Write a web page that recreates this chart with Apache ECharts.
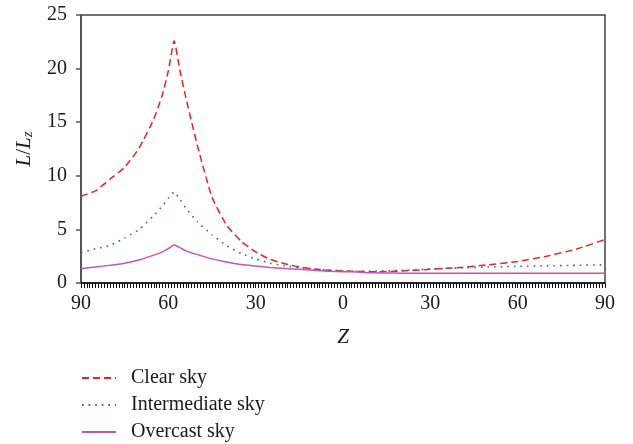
<!DOCTYPE html>
<html>
<head>
<meta charset="utf-8">
<script src="https://cdn.jsdelivr.net/npm/echarts@6/dist/echarts.min.js"></script>
<style>
  html, body { margin: 0; padding: 0; background: #ffffff; }
  #chart { width: 633px; height: 444px; }
</style>
</head>
<body>
<div id="chart"></div>
<script>
// Zenith angle Z: negative = one side of the zenith, positive = the other side
var angles = [-90, -85, -80, -75, -70, -65, -62, -60, -58, -56, -54, -50, -45, -40, -35, -30, -25, -20, -15, -10, -5, 0, 5, 10, 15, 20, 30, 40, 50, 60, 70, 80, 90];

// Relative luminance L/Lz for each sky type
var clearSky =        [8.1, 8.6, 9.7, 10.8, 12.6, 15.3, 17.6, 19.8, 22.6, 19.8, 17.3, 12.8, 8.0, 5.4, 3.9, 2.9, 2.2, 1.8, 1.5, 1.3, 1.2, 1.12, 1.08, 1.05, 1.07, 1.12, 1.28, 1.45, 1.7, 2.0, 2.5, 3.15, 4.05];
var intermediateSky = [2.8, 3.2, 3.5, 4.2, 5.0, 6.3, 7.2, 7.9, 8.5, 7.8, 7.0, 5.7, 4.5, 3.5, 2.75, 2.25, 1.85, 1.6, 1.45, 1.3, 1.2, 1.12, 1.1, 1.1, 1.12, 1.18, 1.3, 1.4, 1.5, 1.55, 1.6, 1.65, 1.7];
var overcastSky =     [1.33, 1.5, 1.65, 1.85, 2.15, 2.6, 2.9, 3.2, 3.55, 3.3, 3.0, 2.65, 2.25, 1.95, 1.72, 1.58, 1.45, 1.35, 1.28, 1.18, 1.1, 1.05, 1.03, 0.95, 0.93, 0.92, 0.92, 0.92, 0.91, 0.91, 0.9, 0.9, 0.9];

var seriesNames = ['Clear sky', 'Intermediate sky', 'Overcast sky'];
var xTicks = [90, 60, 30, 0, 30, 60, 90];

function pairs(values) {
  return angles.map(function (a, i) { return [a, values[i]]; });
}

var serif = '"Liberation Serif", "DejaVu Serif", serif';
var ink = '#1a1a1a';

var chart = echarts.init(document.getElementById('chart'), null, { renderer: 'canvas' });

chart.setOption({
  animation: false,
  backgroundColor: '#ffffff',
  grid: {
    left: 81, right: 28, top: 15, bottom: 161,
    show: true, borderColor: '#444', borderWidth: 1.5, backgroundColor: 'transparent'
  },
  legend: {
    orient: 'vertical',
    left: 81, top: 368,
    padding: 0,
    height: 80,
    itemWidth: 34, itemHeight: 10, itemGap: 7,
    itemStyle: { opacity: 0 },
    textStyle: { fontFamily: serif, fontSize: 20, color: ink, padding: [0, 0, 0, 10] },
    data: seriesNames
  },
  xAxis: {
    type: 'value',
    min: -90, max: 90, interval: 30,
    name: 'Z',
    nameLocation: 'middle',
    nameGap: 44,
    nameTextStyle: { fontFamily: serif, fontSize: 21, fontStyle: 'italic', color: ink },
    axisLine: { onZero: false, lineStyle: { color: '#111', width: 1.5 } },
    axisTick: { length: 5, lineStyle: { color: '#111', width: 1 } },
    minorTick: { show: true, splitNumber: 30, length: 5, lineStyle: { color: '#111', width: 1 } },
    splitLine: { show: false },
    axisLabel: {
      margin: 11,
      fontFamily: serif, fontSize: 20, color: ink,
      formatter: function (v) { return xTicks[Math.round((v + 90) / 30)]; }
    }
  },
  yAxis: {
    type: 'value',
    min: 0, max: 25, interval: 5,
    name: '{i|L}{n|/}{i|L}{s|z}',
    nameLocation: 'middle',
    nameGap: 45,
    nameTextStyle: {
      fontFamily: serif, fontSize: 21, color: ink,
      rich: {
        i: { fontFamily: serif, fontSize: 21, fontStyle: 'italic', color: ink },
        n: { fontFamily: serif, fontSize: 21, color: ink },
        s: { fontFamily: serif, fontSize: 15, fontStyle: 'italic', color: ink, padding: [9, 0, 0, 0] }
      }
    },
    axisLine: { show: true, onZero: false, lineStyle: { color: '#555', width: 2 } },
    axisTick: { show: true, length: 5, lineStyle: { color: '#555', width: 1.5 } },
    splitLine: { show: false },
    axisLabel: { margin: 14, fontFamily: serif, fontSize: 20, color: ink }
  },
  series: [
    {
      name: seriesNames[0], type: 'line', symbol: 'none', smooth: 0.15,
      data: pairs(clearSky),
      lineStyle: { color: '#ee2222', width: 1.5, type: [7, 4] },
      itemStyle: { color: '#ee2222' }
    },
    {
      name: seriesNames[1], type: 'line', symbol: 'none', smooth: 0.15,
      data: pairs(intermediateSky),
      lineStyle: { color: '#3f5fc4', width: 1.6, type: [1.6, 5] },
      itemStyle: { color: '#3f5fc4' }
    },
    {
      name: seriesNames[2], type: 'line', symbol: 'none', smooth: 0.15,
      data: pairs(overcastSky),
      lineStyle: { color: '#c256b4', width: 1.5 },
      itemStyle: { color: '#c256b4' }
    }
  ]
});
</script>
</body>
</html>
